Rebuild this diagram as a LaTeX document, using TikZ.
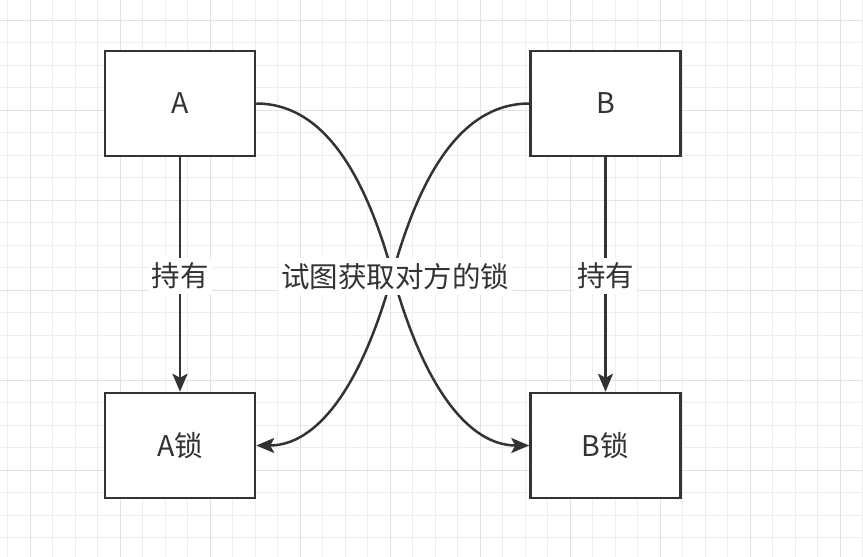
\documentclass[tikz,border=0pt]{standalone}
\usepackage{fontspec}
\setmainfont{Noto Sans CJK SC}
\usetikzlibrary{arrows.meta}
\definecolor{ink}{HTML}{333333}
\definecolor{gridminor}{HTML}{EDEDED}
\definecolor{gridmajor}{HTML}{E1E1E1}
\begin{document}
\begin{tikzpicture}[x=1pt,y=-1pt,
  box/.style={draw=ink, line width=2.5pt, fill=white, minimum width=150pt, minimum height=105pt, inner sep=0pt, font=\fontsize{28.5}{32}\selectfont, text=ink},
  conn/.style={draw=ink, line width=2.5pt, -{Stealth[length=18pt,width=15pt,inset=4pt]}},
  lbl/.style={fill=white, text=ink, font=\fontsize{28.5}{32}\selectfont, inner xsep=3pt, inner ysep=5pt}]
  % background and grid
  \fill[white] (0,0) rectangle (863,557);
  \useasboundingbox (0,0) rectangle (863,557);
  \foreach \x in {7.5,30,...,862.5} \draw[gridminor, line width=1pt] (\x,0) -- (\x,557);
  \foreach \y in {20,42.5,...,550} \draw[gridminor, line width=1pt] (0,\y) -- (863,\y);
  \foreach \x in {30,120,...,840} \draw[gridmajor, line width=1pt] (\x,0) -- (\x,557);
  \foreach \y in {20,110,...,550} \draw[gridmajor, line width=1pt] (0,\y) -- (863,\y);
  % boxes
  \node[box] (A) at (180,103.5) {A};
  \node[box] (B) at (605.5,103.5) {B};
  \node[box] (Al) at (180,445.5) {A锁};
  \node[box] (Bl) at (605.5,445.5) {B锁};
  % vertical arrows
  \draw[conn] (A) -- node[lbl, yshift=-1.5pt] (h1) {持有} (Al);
  \draw[conn] (B) -- node[lbl, yshift=-1.5pt] (h2) {持有} (Bl);
  % crossing curves
  \coordinate (m) at (392.5,274);
  \draw[conn] (A.east) .. controls +(60.3,0) and +(-31.3,-114) .. (m)
              .. controls +(31.3,114) and +(-60.3,0) .. (Bl.west);
  \draw[conn] (B.west) .. controls +(-60.3,0) and +(31.3,-114) .. (m)
              .. controls +(-31.3,114) and +(60.3,0) .. (Al.east);
  \node[lbl] (t) at (395,276.5) {试图获取对方的锁};
\end{tikzpicture}
\end{document}
